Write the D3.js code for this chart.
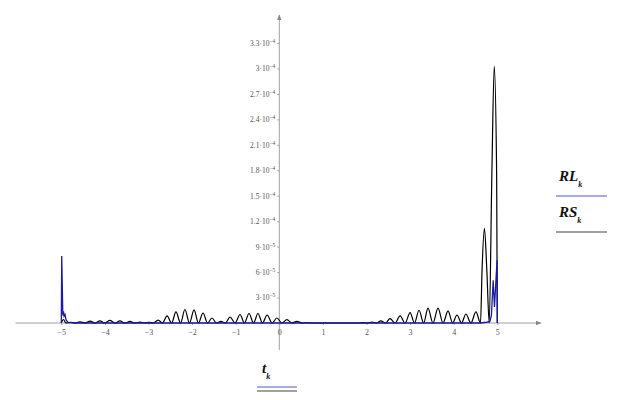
<!DOCTYPE html>
<html>
<head>
<meta charset="utf-8">
<script src="https://cdn.jsdelivr.net/npm/d3@7"></script>
<style>
  body { margin: 0; background: #fff; }
</style>
</head>
<body>
<div id="chart"></div>
<script>
// values are in units of 1e-5
const UNIT = 1e-5;
const SERIF = "'Liberation Serif', 'DejaVu Serif', serif";

// RS_k (black curve): t and value pairs, zeros between humps
const rsT = [-5.0, -4.95, -4.895, -4.78, -4.675, -4.57, -4.455, -4.34, -4.23, -4.115, -4.0,
  -3.885, -3.77, -3.655, -3.54, -3.425, -3.31, -3.195, -3.09, -2.99, -2.885,
  -2.78, -2.68, -2.575, -2.47, -2.37, -2.265, -2.165, -2.06, -1.955, -1.855,
  -1.75, -1.645, -1.545, -1.44, -1.34, -1.235, -1.13, -1.015, -0.9, -0.8,
  -0.695, -0.59, -0.49, -0.385, -0.28, -0.165, -0.055, 0.06, 0.175, 0.29,
  0.405, 0.52, 0.635, 0.75, 1.805, 1.92, 2.02, 2.125, 2.23, 2.33,
  2.435, 2.54, 2.655, 2.77, 2.885, 3.0, 3.1, 3.205, 3.31, 3.41,
  3.525, 3.64, 3.755, 3.87, 3.975, 4.075, 4.18, 4.28, 4.395, 4.51,
  4.615, 4.65, 4.705, 4.76, 4.815, 4.875, 4.93, 4.985, 5.0];
const rsV = [0, 0.41, 0, 0.07, 0, 0.14, 0, 0.21, 0, 0.26, 0,
  0.30, 0, 0.26, 0, 0.19, 0, 0.11, 0, 0.09, 0,
  0.35, 0, 0.83, 0, 1.30, 0, 1.59, 0, 1.54, 0,
  1.18, 0, 0.59, 0, 0.18, 0, 0.71, 0, 1.00, 0,
  1.12, 0, 1.12, 0, 0.94, 0, 0.59, 0, 0.39, 0,
  0.20, 0, 0.06, 0, 0, 0.04, 0, 0.12, 0, 0.24,
  0, 0.51, 0, 0.83, 0, 1.22, 0, 1.50, 0, 1.75,
  0, 1.75, 0, 1.42, 0, 0.94, 0, 1.06, 0, 1.30,
  0, 6.2, 11.16, 6.2, 0, 17.5, 30.24, 17.5, 0];

// RL_k (blue curve)
const rlT = [-5.0, -4.99, -4.965, -4.95, -4.935, -4.915, -4.89, -4.845, -4.7,
  4.6, 4.76, 4.83, 4.865, 4.905, 4.935, 4.995, 5.0];
const rlV = [0, 7.9, 0.9, 1.38, 0.8, 1.0, 0.35, 0.06, 0,
  0, 0.09, 0.18, 0.9, 5.04, 1.9, 7.4, 0];

const xTicks = [-5, -4, -3, -2, -1, 0, 1, 2, 3, 4, 5];
const yTicks = [3e-5, 6e-5, 9e-5, 1.2e-4, 1.5e-4, 1.8e-4, 2.1e-4, 2.4e-4, 2.7e-4, 3e-4, 3.3e-4];

const WIDTH = 624;
const HEIGHT = 400;

const svg = d3.select("#chart")
  .append("svg")
  .attr("width", WIDTH)
  .attr("height", HEIGHT)
  .attr("font-family", SERIF);

const x = d3.scaleLinear().domain([-5, 5]).range([61.3, 497.3]);
const y = d3.scaleLinear().domain([0, 3.3e-4]).range([323, 43]);

const axisColor = "#a0a0a0";

// arrow marker
svg.append("defs").append("marker")
  .attr("id", "arrow")
  .attr("viewBox", "0 0 10 10")
  .attr("refX", 9).attr("refY", 5)
  .attr("markerWidth", 6).attr("markerHeight", 6)
  .attr("orient", "auto")
  .append("path")
  .attr("d", "M0,1 L10,5 L0,9 Z")
  .attr("fill", "#888");

// axis lines
svg.append("line")
  .attr("x1", x(-6.05)).attr("x2", x(6))
  .attr("y1", y(0)).attr("y2", y(0))
  .attr("stroke", axisColor).attr("stroke-width", 1)
  .attr("marker-end", "url(#arrow)");

svg.append("line")
  .attr("x1", x(0)).attr("x2", x(0))
  .attr("y1", y(-3.2e-5)).attr("y2", y(3.63e-4))
  .attr("stroke", axisColor).attr("stroke-width", 1)
  .attr("marker-end", "url(#arrow)");

// x axis ticks
const xAxis = svg.append("g")
  .attr("transform", `translate(0, ${y(0)})`)
  .call(d3.axisBottom(x).tickValues(xTicks).tickSize(2).tickPadding(4)
    .tickFormat(d => d < 0 ? "\u2212" + Math.abs(d) : d));
xAxis.attr("font-family", SERIF).attr("font-size", 8);
xAxis.select(".domain").remove();
xAxis.selectAll("line").attr("stroke", axisColor);
xAxis.selectAll("text").attr("fill", "#555");

// y axis ticks
const yAxis = svg.append("g")
  .attr("transform", `translate(${x(0)}, 0)`)
  .call(d3.axisLeft(y).tickValues(yTicks).tickSize(2).tickPadding(2).tickFormat(""));
yAxis.attr("font-family", SERIF).attr("font-size", 7.5);
yAxis.select(".domain").remove();
yAxis.selectAll("line").attr("stroke", axisColor);
yAxis.selectAll(".tick text").each(function (d) {
  const e = Math.floor(Math.log10(d) + 1e-9);
  const m = +(d / Math.pow(10, e)).toFixed(1);
  const t = d3.select(this).attr("fill", "#555");
  t.append("tspan").text(m + "\u00b710");
  t.append("tspan").attr("dy", "-3").attr("font-size", 5.5).text("\u2212" + Math.abs(e));
});

// curves
const rs = rsT.map((t, i) => ({ t: t, v: rsV[i] * UNIT }));
const rl = rlT.map((t, i) => ({ t: t, v: rlV[i] * UNIT }));

svg.append("path")
  .datum(rs)
  .attr("fill", "none")
  .attr("stroke", "#000")
  .attr("stroke-width", 1.2)
  .attr("d", d3.line().x(d => x(d.t)).y(d => y(d.v)).curve(d3.curveMonotoneX));

svg.append("path")
  .datum(rl)
  .attr("fill", "none")
  .attr("stroke", "#1a1aa8")
  .attr("stroke-width", 1.3)
  .attr("d", d3.line().x(d => x(d.t)).y(d => y(d.v)));

// legend on the right
const legend = [
  { name: "RL", color: "#5555cc", y: 181 },
  { name: "RS", color: "#444", y: 217 }
];
legend.forEach(l => {
  const t = svg.append("text")
    .attr("x", 559).attr("y", l.y)
    .attr("font-size", 15)
    .attr("font-style", "italic")
    .attr("font-weight", "bold")
    .attr("fill", "#111");
  t.append("tspan").text(l.name);
  t.append("tspan").attr("dy", 6).attr("font-size", 8).text("k");
  svg.append("line")
    .attr("x1", 556).attr("x2", 607)
    .attr("y1", l.y + 15).attr("y2", l.y + 15)
    .attr("stroke", l.color).attr("stroke-width", 1.2);
});

// x label
const xl = svg.append("text")
  .attr("x", 262).attr("y", 373)
  .attr("font-size", 15)
  .attr("font-style", "italic")
  .attr("font-weight", "bold")
  .attr("fill", "#111");
xl.append("tspan").text("t");
xl.append("tspan").attr("dy", 6).attr("font-size", 8).text("k");
svg.append("line")
  .attr("x1", 257).attr("x2", 297).attr("y1", 387).attr("y2", 387)
  .attr("stroke", "#5555cc").attr("stroke-width", 1.2);
svg.append("line")
  .attr("x1", 257).attr("x2", 297).attr("y1", 391).attr("y2", 391)
  .attr("stroke", "#444").attr("stroke-width", 1.2);
</script>
</body>
</html>
